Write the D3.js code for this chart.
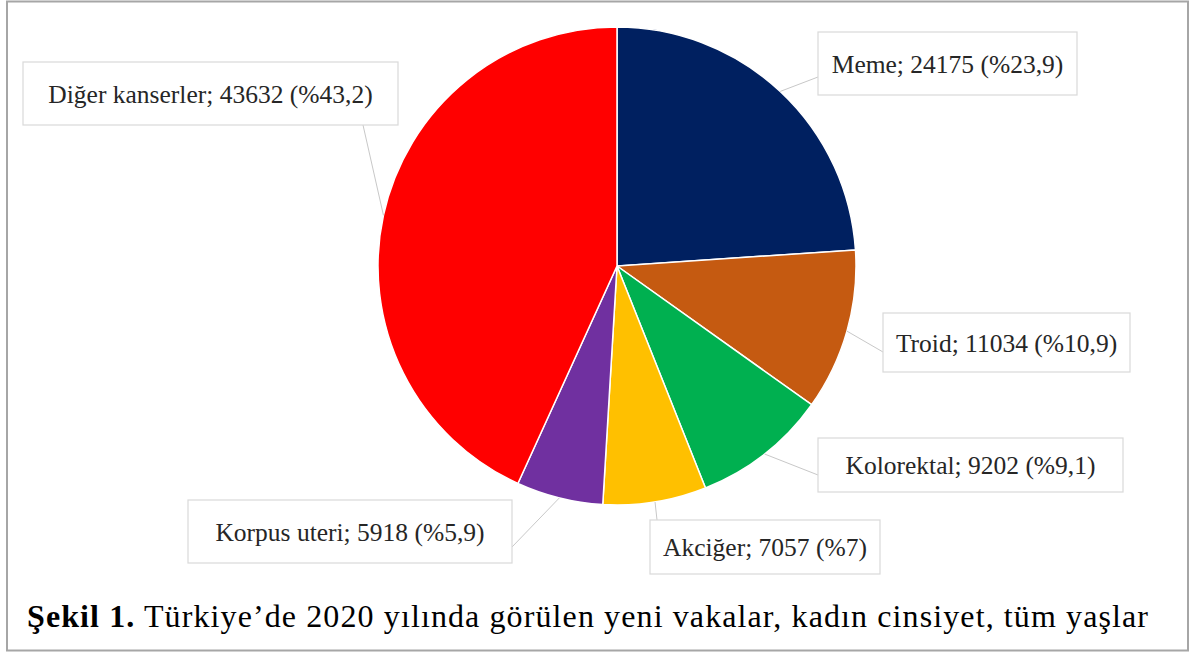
<!DOCTYPE html>
<html>
<head>
<meta charset="utf-8">
<script src="https://cdn.jsdelivr.net/npm/d3@7"></script>
<style>
  body { margin: 0; background: #fff; }
</style>
</head>
<body>
<div id="viz"></div>
<script>
// data
var categories = ["Meme", "Troid", "Kolorektal", "Akciğer", "Korpus uteri", "Diğer kanserler"];
var values = [24175, 11034, 9202, 7057, 5918, 43632];
var percents = ["23,9", "10,9", "9,1", "7", "5,9", "43,2"];
var colors = ["#002060", "#C55A11", "#00B050", "#FFC000", "#7030A0", "#FF0000"];
var caption = "Türkiye’de 2020 yılında görülen yeni vakalar, kadın cinsiyet, tüm yaşlar";

// label boxes: [left, top, width, height], and where the leader line meets the box
var boxes = [
    { box: [818, 32, 259, 63], anchor: [818, 77] },
    { box: [883, 313, 247, 59], anchor: [883, 352] },
    { box: [818, 438, 305, 54], anchor: [818, 475] },
    { box: [650, 520, 230, 54], anchor: [657, 520] },
    { box: [188, 500, 324, 63], anchor: [512, 547] },
    { box: [23, 62, 375, 63], anchor: [363, 125] }
];

var W = 1194, H = 655;
var cx = 617, cy = 266, radius = 239;

var svg = d3.select("#viz")
    .append("svg")
    .attr("width", W)
    .attr("height", H)
    .style("font-family", "'Liberation Serif', 'Times New Roman', serif");

// outer frame
svg.append("rect")
    .attr("x", 7)
    .attr("y", 1.5)
    .attr("width", 1181)
    .attr("height", 649)
    .attr("fill", "#fff")
    .attr("stroke", "#a6a6a6")
    .attr("stroke-width", 2);

var pie = d3.pie().sort(null).value(function (d) { return d.value; });
var arcs = pie(categories.map(function (c, i) { return { name: c, value: values[i], i: i }; }));

var arc = d3.arc().innerRadius(0).outerRadius(radius);

var g = svg.append("g")
    .attr("transform", "translate(" + cx + "," + cy + ")");

g.selectAll("path")
    .data(arcs)
    .enter()
    .append("path")
    .attr("d", arc)
    .attr("fill", function (d) { return colors[d.data.i]; })
    .attr("stroke", "#fff")
    .attr("stroke-width", 1.5);

// leader lines
svg.selectAll(".leader")
    .data(arcs)
    .enter()
    .append("line")
    .attr("class", "leader")
    .attr("x1", function (d) { return cx + radius * Math.sin((d.startAngle + d.endAngle) / 2); })
    .attr("y1", function (d) { return cy - radius * Math.cos((d.startAngle + d.endAngle) / 2); })
    .attr("x2", function (d) { return boxes[d.data.i].anchor[0]; })
    .attr("y2", function (d) { return boxes[d.data.i].anchor[1]; })
    .attr("stroke", "#c8c8c8")
    .attr("stroke-width", 1);

// label boxes
var lab = svg.selectAll(".lab")
    .data(arcs)
    .enter()
    .append("g")
    .attr("class", "lab");

lab.append("rect")
    .attr("x", function (d) { return boxes[d.data.i].box[0]; })
    .attr("y", function (d) { return boxes[d.data.i].box[1]; })
    .attr("width", function (d) { return boxes[d.data.i].box[2]; })
    .attr("height", function (d) { return boxes[d.data.i].box[3]; })
    .attr("fill", "#fff")
    .attr("stroke", "#d9d9d9")
    .attr("stroke-width", 1.2);

lab.append("text")
    .attr("x", function (d) { var b = boxes[d.data.i].box; return b[0] + b[2] / 2; })
    .attr("y", function (d) { var b = boxes[d.data.i].box; return b[1] + b[3] / 2 + 9; })
    .attr("text-anchor", "middle")
    .style("font-size", "25.5px")
    .attr("fill", "#262626")
    .text(function (d) {
        return d.data.name + "; " + values[d.data.i] + " (%" + percents[d.data.i] + ")";
    });

// caption
var cap = svg.append("text")
    .attr("x", 27)
    .attr("y", 627)
    .attr("textLength", 1121)
    .attr("lengthAdjust", "spacing")
    .style("font-size", "32px")
    .attr("fill", "#000");
cap.append("tspan").style("font-weight", "bold").text("Şekil 1.");
cap.append("tspan").text(" " + caption);
</script>
</body>
</html>
